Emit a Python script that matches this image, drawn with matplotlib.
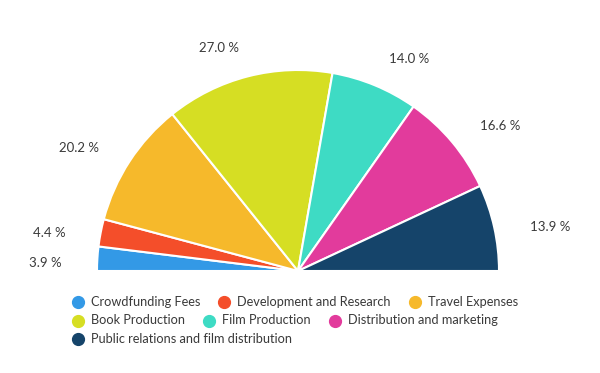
import numpy as np
import matplotlib
matplotlib.use("Agg")
import matplotlib.pyplot as plt

categories = ["Crowdfunding Fees", "Development and Research", "Travel Expenses",
              "Book Production", "Film Production", "Distribution and marketing",
              "Public relations and film distribution"]
values = [3.9, 4.4, 20.2, 27.0, 14.0, 16.6, 13.9]
colors = ["#3399E6", "#F44E2A", "#F6B92B", "#D6DE23", "#3EDBC4", "#E23B9C", "#15446A"]

plt.rcParams['font.family'] = ['Lato', 'DejaVu Sans']
W, H = 600, 373
fig = plt.figure(figsize=(W / 100, H / 100), dpi=100)
ax = fig.add_axes([0, 0, 1, 1])

cx, cy, R = 298, H - 271, 201
total = sum(values)
fracs = [v / total / 2 for v in values]
ax.pie(fracs, colors=colors, startangle=180, counterclock=False, normalize=False,
       center=(cx, cy), radius=R, frame=True,
       wedgeprops=dict(edgecolor="white", linewidth=1.5))
ax.set_xlim(0, W)
ax.set_ylim(0, H)
ax.axis("off")

# value labels
cum = 0
for v in values:
    mid = 180 - (cum + v / 2) / total * 180
    cum += v
    a = np.deg2rad(mid)
    rr = R * 1.18
    x = cx + rr * np.cos(a)
    y = cy + rr * np.sin(a) - 7
    ha = "left" if np.cos(a) > 0 else "right"
    ax.text(x, y, f"{v:.1f} %", ha=ha, va="center", fontsize=9.5, color="#3a3a3a")

# flowing legend
renderer = fig.canvas.get_renderer()
x0, y = 78, H - 302
x = x0
maxx = 545
row_h = 18.5
for lab, col in zip(categories, colors):
    t = ax.text(0, 0, lab, fontsize=9.2, color="#3a3a3a", va="center", ha="left")
    w = t.get_window_extent(renderer).width
    if x + 13 + w > maxx and x != x0:
        x = x0
        y -= row_h
    ax.plot([x], [y], marker="o", markersize=8.5, color=col, linestyle="none")
    t.set_position((x + 13, y))
    x = x + 13 + w + 24

fig.savefig("out.png", dpi=100)
